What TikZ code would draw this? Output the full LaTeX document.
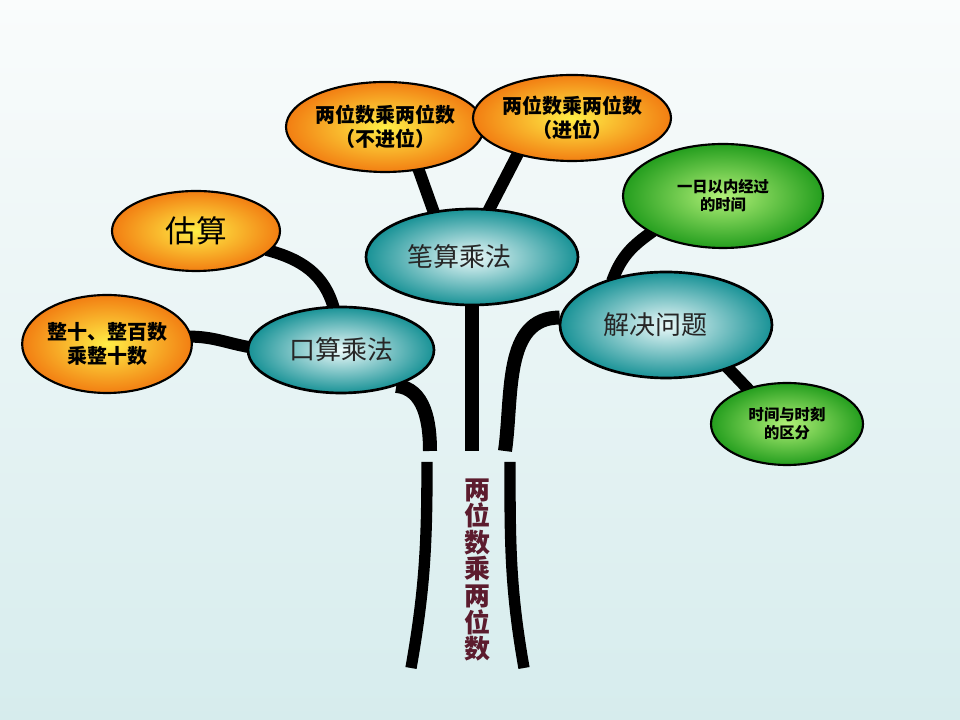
\documentclass[tikz,border=0pt]{standalone}
\usepackage{fontspec}
\setmainfont{Noto Sans CJK SC}
\usepackage{tikz}
\usetikzlibrary{shapes.geometric,backgrounds}
\definecolor{bgtop}{RGB}{250,252,252}
\definecolor{bgbottom}{RGB}{214,236,237}
\definecolor{hubin}{RGB}{236,250,250}
\definecolor{hubout}{RGB}{24,146,150}
\definecolor{warmin}{RGB}{255,238,70}
\definecolor{warmout}{RGB}{242,126,18}
\definecolor{leafin}{RGB}{178,240,120}
\definecolor{leafout}{RGB}{36,158,30}
\definecolor{titlered}{RGB}{92,28,46}

\begin{document}
\begin{tikzpicture}[x=0.75pt, y=0.75pt,
    hub/.style={ellipse, draw=black, line width=2pt, inner sep=0pt, inner color=hubin, outer color=hubout, text=black!85, font=\fontsize{19.5}{22}\selectfont},
    warm/.style={ellipse, draw=black, line width=1.6pt, inner sep=0pt, inner color=warmin, outer color=warmout, align=center, font=\bfseries\fontsize{15}{18}\selectfont},
    leaf/.style={ellipse, draw=black, line width=1.6pt, inner sep=0pt, inner color=leafin, outer color=leafout, align=center, font=\bfseries\fontsize{11.5}{13.5}\selectfont},
    branch/.style={line width=9pt, shorten <=-3pt, shorten >=-3pt},
    trunk/.style={line width=10.5pt},
    root/.style={line width=8.5pt}]
            \node[hub, minimum width=159pt, minimum height=72pt] (written) at (472,463) {\hspace*{-19pt}笔算乘法};
            \node[hub, minimum width=139.5pt, minimum height=64.5pt] (oral) at (341,370) {口算乘法};
            \node[hub, minimum width=159pt, minimum height=79.5pt] (solve) at (666,395) {\hspace*{-16pt}解决问题};
            \node[warm, minimum width=132pt, minimum height=67.5pt] (nocarry) at (385,593) {两位数乘两位数\\（不进位）};
            \node[warm, minimum width=138pt, minimum height=64.5pt] (carry) at (572,602) {两位数乘两位数\\（进位）};
            \node[warm, minimum width=126pt, minimum height=60pt, font=\fontsize{23}{26}\selectfont] (estimate) at (196,489) {估算};
            \node[warm, minimum width=126pt, minimum height=73.5pt] (tens) at (107,376) {整十、整百数\\乘整十数};
            \node[leaf, minimum width=150pt, minimum height=78pt] (elapsed) at (723,524) {一日以内经过\\的时间};
            \node[leaf, minimum width=114pt, minimum height=61.5pt] (moment) at (787,296) {时间与时刻\\的区分};
            \node[text=titlered, align=center, font=\bfseries\fontsize{19.5}{19.9}\selectfont] (title) at (477,150) {两\\位\\数\\乘\\两\\位\\数};
            \coordinate (trunkleft) at (430,269);
            \coordinate (trunkmid) at (472,269);
            \coordinate (trunkright) at (505,269);
            \coordinate (rootlefttop) at (427,258);
            \coordinate (rootleftend) at (411,52);
            \coordinate (rootrighttop) at (510,258);
            \coordinate (rootrightend) at (524,52);
            \begin{scope}[on background layer]
            \fill[top color=bgtop, bottom color=bgbottom] (0,0) rectangle (960,720);
            \draw[branch] (estimate.-15) to[out=-15, in=105] (oral.100);
            \draw[branch] (tens.5) to[out=0, in=170] (oral.178);
            \draw[branch] (written.130) -- (nocarry.-52);
            \draw[branch] (written.70) -- (carry.214);
            \draw[branch] (solve.138) to[out=70, in=215] (elapsed.207);
            \draw[branch] (solve.-35) -- (moment.138);
            \draw[trunk] (written.south) -- (trunkmid);
            \draw[trunk] (oral.-33) to[out=-5, in=90] (trunkleft);
            \draw[trunk] (solve.176) to[out=180, in=82] (trunkright);
            \draw[root] (rootlefttop) to[out=-90, in=80] (rootleftend);
            \draw[root] (rootrighttop) to[out=-90, in=100] (rootrightend);
            \end{scope}
        \end{tikzpicture}
\end{document}
